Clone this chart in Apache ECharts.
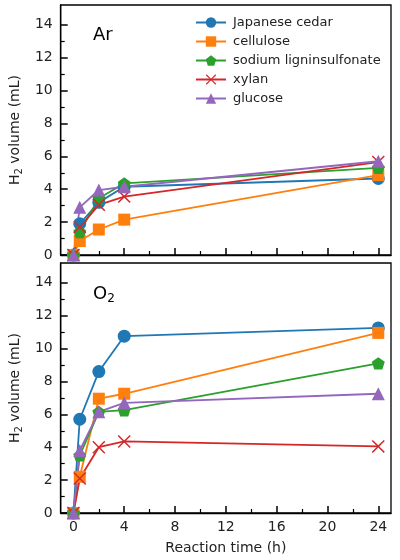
<!DOCTYPE html>
<html>
<head>
<meta charset="utf-8">
<script src="https://cdn.jsdelivr.net/npm/echarts@6/dist/echarts.min.js"></script>
<style>
  html, body { margin: 0; padding: 0; background: #fff; }
  #chart { width: 400px; height: 560px; }
</style>
</head>
<body>
<div id="chart"></div>
<script>
// 数据 (从图上读出来的)
var hours = [0, 0.5, 2, 4, 24];
var seriesNames = ['Japanese cedar', 'cellulose', 'sodium ligninsulfonate', 'xylan', 'glucose'];

// Ar 气氛
var arCedar     = [0, 1.9, 3.2, 4.15, 4.65];
var arCellulose = [0, 0.85, 1.55, 2.15, 4.85];
var arLignin    = [0, 1.4, 3.45, 4.35, 5.3];
var arXylan     = [0, 1.7, 3.05, 3.55, 5.65];
var arGlucose   = [0, 2.9, 3.95, 4.15, 5.7];

// O2 气氛
var o2Cedar     = [0, 5.7, 8.6, 10.75, 11.25];
var o2Cellulose = [0, 2.2, 6.95, 7.25, 10.95];
var o2Lignin    = [0, 3.5, 6.15, 6.25, 9.1];
var o2Xylan     = [0, 2.1, 4.0, 4.35, 4.05];
var o2Glucose   = [0, 3.8, 6.15, 6.7, 7.25];

// 刻度
var xMajor = [0, 4, 8, 12, 16, 20, 24];
var xMinor = [2, 6, 10, 14, 18, 22];
var yMajor = [0, 2, 4, 6, 8, 10, 12, 14];
var yMinor = [1, 3, 5, 7, 9, 11, 13];

var colors = ['#1f77b4', '#ff7f0e', '#2ca02c', '#d62728', '#9467bd'];
var font = 'DejaVu Sans';

// 标记形状
var pentagon = 'path://M5,0 L10,3.633 L8.09,9.51 L1.91,9.51 L0,3.633 Z';
var cross = 'path://M0,0.8 L0.8,0 L5,4.2 L9.2,0 L10,0.8 L5.8,5 L10,9.2 L9.2,10 L5,5.8 L0.8,10 L0,9.2 L4.2,5 Z';
var symbols = ['circle', 'rect', pentagon, cross, 'triangle'];
var sizes = [13, 12, 13, 13, 13];

function pairs(ys) {
  var out = [];
  for (var i = 0; i < hours.length; i++) {
    out.push([hours[i], ys[i]]);
  }
  return out;
}

function blank() { return ''; }

var myChart = echarts.init(document.getElementById('chart'));

var grids = [
  { left: 54, right: 9, top: 5, height: 250 },
  { left: 54, right: 9, top: 263, height: 250 }
];

function xAxes(gi, showLabel) {
  var major = {
    type: 'value', gridIndex: gi, position: 'bottom', min: -1, max: 25,
    axisLine: { show: true, onZero: false, lineStyle: { color: '#000', width: 1.3 } },
    axisTick: { show: true, inside: true, length: 7, customValues: xMajor, lineStyle: { color: '#000', width: 1.5 } },
    axisLabel: { show: true, customValues: xMajor, color: '#222', fontSize: 14, fontFamily: font, margin: 7 },
    splitLine: { show: false }
  };
  if (showLabel) {
    major.name = 'Reaction time (h)';
    major.nameLocation = 'middle';
    major.nameGap = 28;
    major.nameTextStyle = { color: '#222', fontSize: 14, fontFamily: font };
  } else {
    major.axisLabel.formatter = blank;
  }
  var minor = {
    type: 'value', gridIndex: gi, position: 'bottom', min: -1, max: 25,
    axisLine: { show: false, onZero: false },
    axisTick: { show: true, inside: true, length: 4, customValues: xMinor, lineStyle: { color: '#000', width: 1.2 } },
    axisLabel: { show: true, customValues: xMinor, formatter: blank },
    splitLine: { show: false }
  };
  return [major, minor];
}

function yAxes(gi) {
  var major = {
    type: 'value', gridIndex: gi, position: 'left', min: 0, max: 15.2,
    axisLine: { show: true, onZero: false, lineStyle: { color: '#000', width: 1.3 } },
    axisTick: { show: true, inside: true, length: 7, customValues: yMajor, lineStyle: { color: '#000', width: 1.5 } },
    axisLabel: { show: true, customValues: yMajor, color: '#222', fontSize: 14, fontFamily: font, margin: 8 },
    splitLine: { show: false },
    name: '{a|H}{s|2}{a| volume (mL)}',
    nameLocation: 'middle',
    nameGap: 33,
    nameTextStyle: {
      color: '#222',
      rich: {
        a: { fontSize: 14, fontFamily: font, color: '#222' },
        s: { fontSize: 10, fontFamily: font, color: '#222', padding: [8, 0, 0, 0] }
      }
    }
  };
  var minor = {
    type: 'value', gridIndex: gi, position: 'left', min: 0, max: 15.2,
    axisLine: { show: false, onZero: false },
    axisTick: { show: true, inside: true, length: 4, customValues: yMinor, lineStyle: { color: '#000', width: 1.2 } },
    axisLabel: { show: true, customValues: yMinor, formatter: blank },
    splitLine: { show: false }
  };
  return [major, minor];
}

var panelData = [
  [arCedar, arCellulose, arLignin, arXylan, arGlucose],
  [o2Cedar, o2Cellulose, o2Lignin, o2Xylan, o2Glucose]
];

var series = [];
for (var p = 0; p < 2; p++) {
  for (var k = 0; k < seriesNames.length; k++) {
    series.push({
      type: 'line',
      name: seriesNames[k],
      xAxisIndex: p * 2,
      yAxisIndex: p * 2,
      data: pairs(panelData[p][k]),
      symbol: symbols[k],
      symbolSize: sizes[k],
      symbolKeepAspect: true,
      showAllSymbol: true,
      clip: false,
      color: colors[k],
      lineStyle: { width: 1.8, color: colors[k] },
      itemStyle: { color: colors[k] },
      emphasis: { disabled: true },
      animation: false
    });
  }
}

var option = {
  backgroundColor: '#fff',
  animation: false,
  grid: grids.map(function (g) {
    return Object.assign({ show: true, borderColor: '#000', borderWidth: 1.3, backgroundColor: 'transparent' }, g);
  }),
  xAxis: xAxes(0, false).concat(xAxes(1, true)),
  yAxis: yAxes(0).concat(yAxes(1)),
  // 面板标签
  title: [
    { text: 'Ar', left: 88, top: 21, textStyle: { fontSize: 18, fontWeight: 'normal', fontFamily: font, color: '#000' } },
    {
      text: '{a|O}{s|2}', left: 88, top: 279,
      textStyle: {
        fontWeight: 'normal',
        rich: {
          a: { fontSize: 18, fontWeight: 'normal', fontFamily: font, color: '#000' },
          s: { fontSize: 12, fontWeight: 'normal', fontFamily: font, color: '#000', padding: [9, 0, 0, 0] }
        }
      }
    }
  ],
  // 图例
  legend: {
    orient: 'vertical',
    left: 190,
    top: 11,
    itemWidth: 30,
    itemHeight: 13,
    itemGap: 6,
    data: seriesNames,
    selectedMode: false,
    textStyle: { fontSize: 13, fontFamily: font, color: '#222', padding: [0, 0, 0, 2] }
  },
  series: series
};

myChart.setOption(option);
</script>
</body>
</html>
